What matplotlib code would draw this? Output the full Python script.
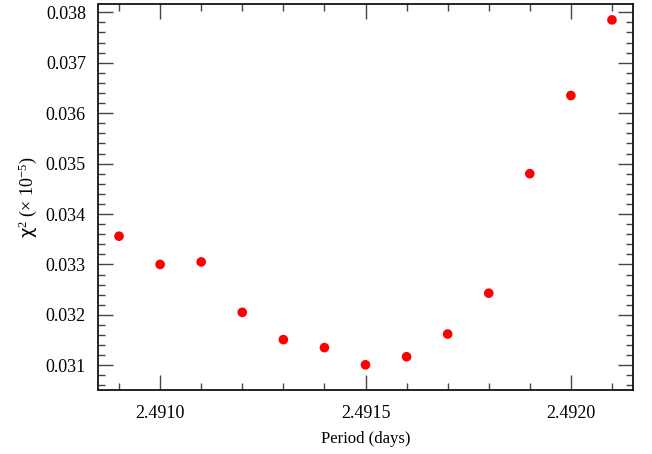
import matplotlib
matplotlib.use('Agg')
import matplotlib.pyplot as plt
from matplotlib.ticker import MultipleLocator, FormatStrFormatter

# period grid (days) and chi-square values
periods = [2.4909, 2.4910, 2.4911, 2.4912, 2.4913, 2.4914, 2.4915,
           2.4916, 2.4917, 2.4918, 2.4919, 2.4920, 2.4921]
chi2 = [0.03356, 0.03300, 0.03305, 0.03205, 0.03151, 0.03135, 0.03101,
        0.03117, 0.03162, 0.03243, 0.03480, 0.03635, 0.03785]

X_LIMITS = (2.49085, 2.49215)
Y_LIMITS = (0.03051, 0.038165)


def main():
    plt.rcParams['font.family'] = ['Liberation Serif', 'DejaVu Serif']
    plt.rcParams['mathtext.fontset'] = 'custom'
    plt.rcParams['mathtext.rm'] = 'Liberation Serif'
    plt.rcParams['mathtext.it'] = 'Liberation Serif:italic'
    plt.rcParams['mathtext.sf'] = 'DejaVu Sans'

    fig = plt.figure(figsize=(6.52, 4.54), dpi=100)
    ax = fig.add_axes([98.5 / 652, 1 - 390 / 454, (632.5 - 98.5) / 652, (390 - 4) / 454])

    ax.scatter(periods, chi2, s=48, color='#ff0000', edgecolors='none', zorder=3)

    ax.set_xlim(*X_LIMITS)
    ax.set_ylim(*Y_LIMITS)

    ax.xaxis.set_major_locator(MultipleLocator(0.0005))
    ax.xaxis.set_minor_locator(MultipleLocator(0.0001))
    ax.xaxis.set_major_formatter(FormatStrFormatter('%.4f'))
    ax.yaxis.set_major_locator(MultipleLocator(0.001))
    ax.yaxis.set_minor_locator(MultipleLocator(0.0002))
    ax.yaxis.set_major_formatter(FormatStrFormatter('%.3f'))

    ax.tick_params(which='both', direction='in', top=True, right=True,
                   color='#444444', width=1.0)
    ax.tick_params(which='major', length=11, labelsize=13, pad=9)
    ax.tick_params(which='minor', length=5)
    ax.tick_params(axis='x', which='major', pad=11)
    for s in ax.spines.values():
        s.set_linewidth(1.3)
        s.set_color('#111111')

    ax.set_xlabel('Period (days)', fontsize=12, labelpad=6)
    ax.set_ylabel(r'$\mathsf{\chi}^{2}$ (× 10$^{-5}$)', fontsize=13, labelpad=5)

    fig.savefig('out.png', dpi=100)


if __name__ == '__main__':
    main()
